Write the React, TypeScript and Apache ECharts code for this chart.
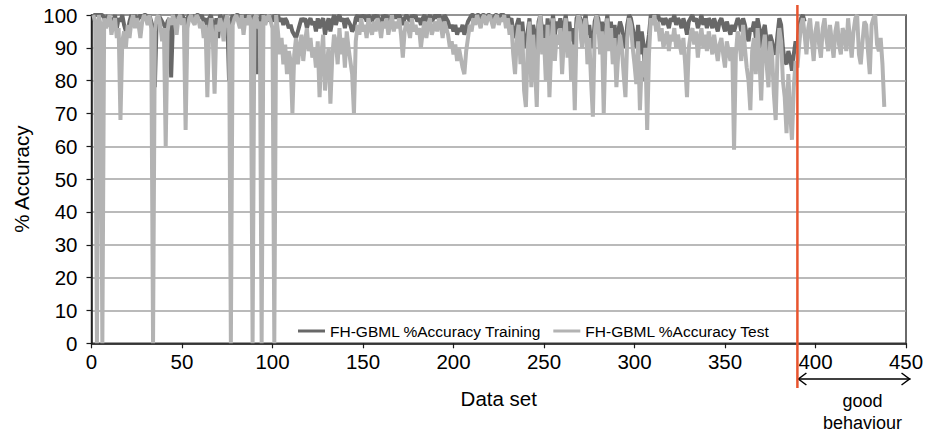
import React, { useEffect, useRef } from "react";
import * as echarts from "echarts";

// FH-GBML %Accuracy Test, data sets 1..438
const TEST_ACC: number[] = [
  100, 98, 0, 100, 97, 0, 99, 96, 98, 100,
  94, 97, 99, 93, 96, 68, 92, 95, 90, 97,
  93, 98, 100, 96, 99, 97, 93, 98, 100, 99,
  97, 100, 96, 0, 95, 99, 100, 97, 92, 96,
  60, 95, 99, 97, 100, 98, 94, 99, 100, 97,
  99, 65, 96, 99, 100, 98, 97, 100, 99, 96,
  98, 93, 97, 75, 95, 99, 93, 76, 97, 95,
  99, 97, 92, 98, 100, 96, 0, 97, 99, 100,
  98, 96, 100, 94, 99, 97, 100, 98, 0, 99,
  100, 96, 98, 0, 100, 97, 99, 100, 98, 96,
  0, 100, 95, 88, 93, 85, 91, 82, 89, 86,
  70, 88, 93, 85, 90, 94, 86, 92, 96, 89,
  93, 87, 90, 84, 92, 75, 88, 94, 77, 85,
  90, 73, 87, 94, 92, 85, 96, 88, 93, 84,
  95, 90, 86, 82, 70, 92, 97, 94, 99, 95,
  97, 93, 99, 96, 94, 98, 95, 99, 97, 93,
  98, 96, 99, 94, 97, 100, 95, 98, 96, 99,
  94, 87, 95, 98, 96, 93, 99, 95, 97, 94,
  96, 90, 95, 98, 93, 97, 99, 94, 96, 98,
  95, 99, 97, 93, 98, 96, 94, 90, 92, 88,
  91, 86, 90, 87, 84, 82, 89, 93, 97, 95,
  99, 97, 100, 98, 96, 99, 100, 97, 99, 100,
  98, 96, 99, 100, 97, 99, 98, 100, 96, 99,
  94, 97, 88, 82, 93, 97, 85, 95, 77, 72,
  90, 98, 78, 94, 85, 72, 96, 100, 88, 93,
  80, 97, 75, 90, 99, 86, 94, 91, 96, 82,
  93, 99, 87, 95, 80, 91, 71, 96, 100, 98,
  90, 96, 99, 85, 93, 80, 69, 94, 100, 97,
  88, 95, 70, 92, 99, 89, 96, 85, 93, 78,
  88, 94, 90, 82, 75, 93, 99, 97, 90, 85,
  79, 92, 71, 86, 81, 90, 65, 88, 99, 97,
  100, 95, 98, 92, 96, 90, 93, 95, 89, 94,
  92, 96, 90, 94, 91, 88, 93, 85, 75, 90,
  94, 96, 91, 95, 87, 93, 96, 90, 94, 89,
  95, 92, 88, 94, 90, 86, 91, 93, 88, 84,
  92, 89, 86, 90, 59, 88, 95, 92, 86, 97,
  90, 84, 80, 71, 89, 93, 82, 96, 87, 74,
  90, 94, 85, 78, 92, 88, 76, 68, 88, 96,
  92, 80, 75, 64, 82, 70, 62, 78, 86, 84,
  91, 97, 99, 94, 88, 96, 99, 92, 86, 95,
  98, 91, 87, 96, 99, 93, 89, 97, 92, 87,
  95, 98, 91, 88, 96, 94, 89, 99, 93, 87,
  95, 99, 100, 88, 85, 92, 98, 97, 89, 82,
  97, 99, 100, 91, 89, 93, 85, 72,
];

// FH-GBML %Accuracy Training, data sets 1..394
const TRAIN_ACC: number[] = [
  100, 100, 100, 100, 100, 100, 99, 98, 100, 97,
  99, 98, 100, 96, 99, 98, 100, 97, 95, 95,
  98, 100, 99, 100, 98, 99, 100, 99, 100, 100,
  99, 100, 98, 96, 78, 98, 100, 99, 98, 97,
  96, 98, 99, 81, 98, 100, 99, 100, 98, 100,
  99, 97, 99, 100, 99, 100, 98, 100, 100, 99,
  100, 98, 99, 96, 99, 100, 97, 95, 99, 93,
  100, 99, 97, 100, 99, 80, 98, 100, 99, 100,
  100, 99, 100, 98, 100, 99, 100, 99, 98, 100,
  92, 82, 99, 100, 99, 100, 98, 100, 99, 98,
  100, 99, 100, 98, 99, 97, 99, 98, 96, 97,
  95, 94, 93, 95, 97, 99, 98, 99, 96, 98,
  99, 97, 98, 95, 99, 96, 98, 99, 94, 97,
  99, 95, 98, 100, 97, 99, 100, 98, 99, 96,
  99, 98, 97, 95, 96, 99, 100, 98, 100, 99,
  100, 98, 100, 99, 98, 100, 99, 100, 98, 97,
  100, 99, 100, 98, 99, 100, 99, 100, 99, 100,
  99, 97, 99, 100, 99, 98, 100, 99, 100, 98,
  99, 97, 99, 100, 98, 99, 100, 98, 99, 100,
  99, 100, 99, 97, 100, 99, 98, 96, 97, 95,
  97, 94, 96, 95, 97, 94, 96, 98, 99, 100,
  100, 99, 100, 100, 99, 100, 100, 99, 100, 100,
  99, 98, 100, 100, 99, 100, 100, 100, 98, 100,
  98, 99, 95, 93, 97, 99, 94, 98, 92, 90,
  95, 99, 91, 97, 94, 89, 98, 100, 95, 97,
  89, 99, 92, 96, 100, 94, 98, 96, 99, 93,
  97, 100, 95, 98, 92, 96, 89, 99, 100, 99,
  91, 98, 100, 94, 97, 92, 90, 98, 100, 99,
  95, 98, 89, 96, 100, 93, 98, 89, 97, 88,
  95, 98, 96, 92, 90, 97, 100, 99, 96, 93,
  90, 97, 88, 95, 91, 80, 90, 94, 100, 99,
  100, 99, 100, 98, 99, 97, 99, 98, 96, 99,
  98, 100, 97, 99, 98, 96, 99, 97, 94, 98,
  99, 100, 98, 99, 96, 98, 100, 97, 99, 96,
  99, 98, 96, 99, 97, 95, 98, 99, 97, 95,
  98, 96, 94, 97, 95, 97, 99, 98, 95, 99,
  97, 94, 92, 96, 95, 98, 93, 99, 96, 90,
  95, 97, 92, 82, 94, 92, 89, 88, 94, 99,
  97, 90, 86, 85, 89, 87, 83, 88, 92, 90,
  97, 99, 100, 98,
];

const SERIES_NAMES = ["FH-GBML %Accuracy Training", "FH-GBML %Accuracy Test"];
const X_MIN = 0;
const X_MAX = 450;
const X_INTERVAL = 50;
const Y_MIN = 0;
const Y_MAX = 100;
const Y_INTERVAL = 10;
const SPLIT_X = 390; // red divider
const GOOD_START = 390;
const GOOD_END = 452.5;
const GOOD_LABEL_X = 426;
const GOOD_LABEL = ["good", "behaviour"];

const FONT = "'Liberation Sans', Arial, sans-serif";

export default function App() {
  const ref = useRef<HTMLDivElement>(null);

  useEffect(() => {
    if (!ref.current) return;
    const chart = echarts.init(ref.current, null, { renderer: "svg" });
    const trainData = TRAIN_ACC.map((v, i) => [i + 1, v]);
    const testData = TEST_ACC.map((v, i) => [i + 1, v]);

    chart.setOption({
      animation: false,
      backgroundColor: "#ffffff",
      textStyle: { fontFamily: FONT },
      grid: {
        left: 91.5,
        right: 22,
        top: 15,
        bottom: 93.7,
        show: true,
        borderColor: "#3a3a3a",
        borderWidth: 1.5,
        backgroundColor: "transparent",
      },
      legend: {
        left: 293,
        top: 318,
        itemWidth: 27,
        itemHeight: 3,
        itemGap: 12,
        icon: "rect",
        textStyle: { fontSize: 15.5, color: "#000", fontFamily: FONT },
        data: SERIES_NAMES,
      },
      xAxis: {
        type: "value",
        min: X_MIN,
        max: X_MAX,
        interval: X_INTERVAL,
        name: "Data set",
        nameLocation: "middle",
        nameGap: 45,
        nameTextStyle: { fontSize: 20.5, color: "#000", fontFamily: FONT },
        axisLine: { show: true, lineStyle: { color: "#1a1a1a", width: 1.5 } },
        axisTick: { show: true, inside: false, length: 5, lineStyle: { color: "#1a1a1a", width: 1.2 } },
        axisLabel: { fontSize: 20.5, color: "#000", margin: 8, fontFamily: FONT },
        splitLine: { show: false },
      },
      yAxis: {
        type: "value",
        min: Y_MIN,
        max: Y_MAX,
        interval: Y_INTERVAL,
        name: "% Accuracy",
        nameLocation: "middle",
        nameGap: 60,
        nameTextStyle: { fontSize: 20.5, color: "#000", fontFamily: FONT },
        axisLine: { show: true, lineStyle: { color: "#1a1a1a", width: 1.5 } },
        axisTick: { show: true, inside: false, length: 5, lineStyle: { color: "#1a1a1a", width: 1.2 } },
        axisLabel: { fontSize: 20.5, color: "#000", margin: 14, fontFamily: FONT },
        splitLine: { show: true, lineStyle: { color: "#a3a3a3", width: 1.5 } },
      },
      series: [
        {
          name: SERIES_NAMES[0],
          type: "line",
          data: trainData,
          showSymbol: false,
          symbol: "none",
          lineStyle: { color: "#686868", width: 4 },
          itemStyle: { color: "#686868" },
          z: 2,
        },
        {
          name: SERIES_NAMES[1],
          type: "line",
          data: testData,
          showSymbol: false,
          symbol: "none",
          lineStyle: { color: "#b3b3b3", width: 4 },
          itemStyle: { color: "#b3b3b3" },
          z: 3,
        },
      ],
    });

    const px = (x: number, y: number) =>
      chart.convertToPixel({ xAxisIndex: 0, yAxisIndex: 0 }, [x, y]) as number[];
    const rx = px(SPLIT_X, 0)[0];
    const a0 = px(GOOD_START, 0)[0];
    const a1 = px(GOOD_END, 0)[0];
    const lx = px(GOOD_LABEL_X, 0)[0];
    const ay = 379;
    const stroke = "#000";

    chart.setOption({
      graphic: [
        {
          type: "line",
          z: 100,
          shape: { x1: rx, y1: 5, x2: rx, y2: 388 },
          style: { stroke: "#e8542e", lineWidth: 2.5 },
        },
        {
          type: "line",
          z: 90,
          shape: { x1: a0, y1: ay, x2: a1, y2: ay },
          style: { stroke, lineWidth: 1.5 },
        },
        {
          type: "polyline",
          z: 90,
          shape: { points: [[a0 + 9, ay - 6], [a0 + 1, ay], [a0 + 9, ay + 6]] },
          style: { stroke, lineWidth: 1.5, fill: "none" },
        },
        {
          type: "polyline",
          z: 90,
          shape: { points: [[a1 - 9, ay - 6], [a1 - 1, ay], [a1 - 9, ay + 6]] },
          style: { stroke, lineWidth: 1.5, fill: "none" },
        },
        {
          type: "text",
          z: 90,
          x: lx,
          y: 401,
          style: {
            text: GOOD_LABEL[0],
            fontSize: 18,
            fontFamily: FONT,
            fill: "#000",
            align: "center",
            verticalAlign: "middle",
          },
        },
        {
          type: "text",
          z: 90,
          x: lx,
          y: 423,
          style: {
            text: GOOD_LABEL[1],
            fontSize: 18,
            fontFamily: FONT,
            fill: "#000",
            align: "center",
            verticalAlign: "middle",
          },
        },
      ],
    });

    return () => chart.dispose();
  }, []);

  return (
    <div
      ref={ref}
      style={{ position: "fixed", left: 0, top: 0, width: 928, height: 437, background: "#fff" }}
    />
  );
}
